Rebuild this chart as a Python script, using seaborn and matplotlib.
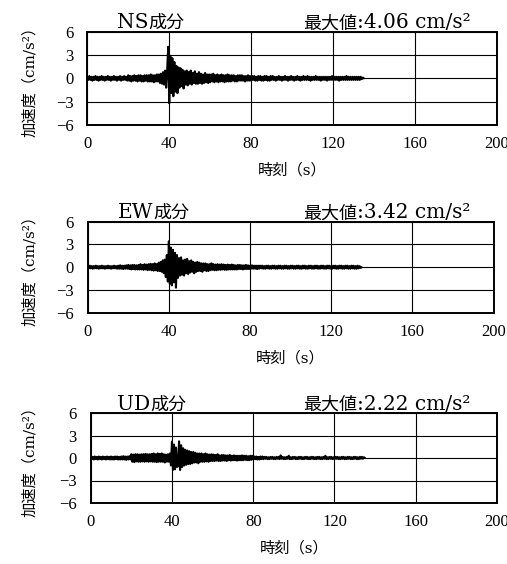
import numpy as np
import matplotlib
matplotlib.use("Agg")
import matplotlib.pyplot as plt
import seaborn as sns
import pandas as pd

# 加速度波形 (0.5 s ごと, 0 - 135 s), 図から読み取った値
dt = 0.5

ns_acc = [
    0.2, -0.2, 0.3, -0.2, 0.2, -0.3, 0.2, -0.2, 0.3, -0.2,
    0.2, -0.3, 0.2, -0.2, 0.3, -0.2, 0.2, -0.3, 0.2, -0.2,
    0.3, -0.2, 0.2, -0.3, 0.2, -0.2, 0.3, -0.2, 0.2, -0.3,
    0.2, -0.2, 0.3, -0.3, 0.2, -0.2, 0.3, -0.2, 0.2, -0.3,
    0.4, -0.3, 0.3, -0.4, 0.3, -0.3, 0.4, -0.3, 0.3, -0.4,
    0.4, -0.3, 0.4, -0.4, 0.3, -0.4, 0.4, -0.3, 0.4, -0.4,
    0.4, -0.4, 0.5, -0.4, 0.4, -0.5, 0.4, -0.4, 0.5, -0.4,
    0.5, -0.6, 0.6, -0.7, 0.8, -0.8, 1.0, -1.2, 1.1, 4.06,
    -3.2, 2.9, -1.9, 2.6, -2.3, 2.1, -1.7, 1.6, -1.9, 1.4,
    -1.2, 1.3, -1.0, 1.1, -1.3, 0.9, -0.8, 1.0, -0.9, 0.8,
    -0.7, 1.0, -0.8, 0.7, -0.6, 0.9, -0.7, 0.6, -0.7, 0.8,
    -0.6, 0.6, -0.7, 0.5, -0.6, 0.7, -0.5, 0.5, -0.6, 0.5,
    -0.5, 0.5, -0.4, 0.6, -0.5, 0.4, -0.4, 0.5, -0.5, 0.4,
    -0.4, 0.5, -0.4, 0.4, -0.5, 0.4, -0.4, 0.5, -0.4, 0.4,
    -0.4, 0.4, -0.3, 0.4, -0.4, 0.3, -0.4, 0.4, -0.3, 0.4,
    -0.3, 0.4, -0.3, 0.3, -0.4, 0.3, -0.3, 0.4, -0.3, 0.3,
    -0.3, 0.3, -0.2, 0.3, -0.3, 0.2, -0.3, 0.3, -0.2, 0.3,
    -0.3, 0.2, -0.3, 0.3, -0.2, 0.3, -0.3, 0.2, -0.3, 0.3,
    -0.2, 0.3, -0.2, 0.2, -0.3, 0.2, -0.2, 0.3, -0.2, 0.2,
    -0.3, 0.2, -0.2, 0.3, -0.2, 0.2, -0.3, 0.2, -0.2, 0.3,
    -0.2, 0.2, -0.3, 0.2, -0.2, 0.3, -0.2, 0.2, -0.3, 0.2,
    -0.2, 0.3, -0.2, 0.2, -0.2, 0.3, -0.2, 0.2, -0.3, 0.2,
    -0.2, 0.2, -0.2, 0.3, -0.2, 0.2, -0.2, 0.2, -0.3, 0.2,
    -0.2, 0.2, -0.2, 0.2, -0.3, 0.2, -0.2, 0.2, -0.2, 0.3,
    -0.2, 0.2, -0.2, 0.2, -0.2, 0.2, -0.3, 0.2, -0.2, 0.2,
    -0.2, 0.2, -0.2, 0.3, -0.2, 0.2, -0.2, 0.2, -0.2, 0.2,
    -0.2, 0.2, -0.2, 0.2, -0.2, 0.2, -0.2, 0.2, -0.1, 0.1,
    0.0,
]

ew_acc = [
    0.15, -0.15, 0.2, -0.15, 0.15, -0.2, 0.15, -0.15, 0.2, -0.15,
    0.15, -0.2, 0.15, -0.15, 0.2, -0.15, 0.15, -0.2, 0.15, -0.15,
    0.2, -0.15, 0.15, -0.2, 0.15, -0.15, 0.2, -0.15, 0.15, -0.2,
    0.2, -0.2, 0.25, -0.2, 0.2, -0.25, 0.2, -0.2, 0.25, -0.2,
    0.3, -0.25, 0.25, -0.3, 0.3, -0.25, 0.3, -0.3, 0.25, -0.3,
    0.3, -0.3, 0.4, -0.3, 0.3, -0.35, 0.4, -0.3, 0.35, -0.4,
    0.4, -0.35, 0.45, -0.4, 0.4, -0.45, 0.5, -0.4, 0.4, -0.5,
    0.6, -0.5, 0.7, -0.6, 0.9, -0.8, 1.0, -1.3, 1.6, -1.9,
    3.42, -2.2, 2.6, -2.4, 2.3, -2.0, 1.9, -2.7, 1.6, -1.4,
    1.2, -1.1, 1.3, -1.0, 0.9, -1.1, 1.0, -0.8, 1.1, -0.9,
    0.8, -0.7, 0.9, -0.6, 0.7, -0.8, 0.6, -0.6, 0.7, -0.5,
    0.6, -0.5, 0.5, -0.6, 0.5, -0.4, 0.5, -0.5, 0.4, -0.5,
    0.4, -0.4, 0.5, -0.35, 0.4, -0.4, 0.35, -0.4, 0.4, -0.35,
    0.35, -0.35, 0.4, -0.3, 0.35, -0.35, 0.3, -0.35, 0.35, -0.3,
    0.3, -0.3, 0.35, -0.3, 0.3, -0.3, 0.25, -0.3, 0.3, -0.25,
    0.3, -0.25, 0.25, -0.3, 0.25, -0.25, 0.3, -0.25, 0.25, -0.25,
    0.2, -0.2, 0.25, -0.2, 0.2, -0.2, 0.2, -0.25, 0.2, -0.2,
    0.2, -0.15, 0.2, -0.2, 0.15, -0.2, 0.2, -0.15, 0.2, -0.2,
    0.15, -0.2, 0.2, -0.15, 0.2, -0.2, 0.15, -0.2, 0.2, -0.15,
    0.2, -0.2, 0.15, -0.2, 0.2, -0.15, 0.2, -0.2, 0.15, -0.2,
    0.2, -0.15, 0.2, -0.2, 0.15, -0.2, 0.2, -0.15, 0.2, -0.2,
    0.15, -0.2, 0.2, -0.15, 0.2, -0.2, 0.15, -0.2, 0.2, -0.15,
    0.2, -0.2, 0.15, -0.2, 0.2, -0.15, 0.2, -0.2, 0.15, -0.2,
    0.2, -0.15, 0.2, -0.2, 0.15, -0.2, 0.2, -0.15, 0.2, -0.2,
    0.15, -0.2, 0.2, -0.15, 0.2, -0.2, 0.15, -0.2, 0.2, -0.15,
    0.2, -0.2, 0.15, -0.2, 0.2, -0.15, 0.2, -0.2, 0.15, -0.2,
    0.2, -0.15, 0.2, -0.2, 0.15, -0.2, 0.2, -0.15, 0.15, -0.1,
    0.0,
]

ud_acc = [
    0.2, -0.15, 0.15, -0.2, 0.2, -0.15, 0.15, -0.2, 0.2, -0.15,
    0.15, -0.2, 0.2, -0.15, 0.15, -0.2, 0.2, -0.15, 0.15, -0.2,
    0.2, -0.2, 0.15, -0.2, 0.2, -0.15, 0.2, -0.2, 0.15, -0.2,
    0.2, -0.2, 0.25, -0.2, 0.2, -0.25, 0.2, -0.2, 0.25, -0.2,
    0.5, -0.5, 0.45, -0.55, 0.5, -0.45, 0.5, -0.5, 0.45, -0.5,
    0.5, -0.45, 0.5, -0.5, 0.55, -0.45, 0.5, -0.5, 0.5, -0.45,
    0.55, -0.5, 0.6, -0.5, 0.5, -0.55, 0.6, -0.5, 0.55, -0.5,
    0.6, -0.5, 0.5, -0.6, 0.45, -0.5, 0.5, -0.5, 0.6, -1.0,
    2.2, -1.6, 1.8, -1.5, 1.4, -1.2, -1.1, 2.22, -1.6, 1.7,
    -1.2, 1.3, -1.0, 1.1, -0.9, 1.0, -0.8, 0.9, -0.8, 0.8,
    -0.7, 0.8, -0.6, 0.7, -0.6, 0.6, -0.7, 0.6, -0.5, 0.6,
    -0.5, 0.5, -0.5, 0.6, -0.45, 0.5, -0.5, 0.45, -0.4, 0.5,
    -0.4, 0.45, -0.4, 0.4, -0.35, 0.5, -0.4, 0.35, -0.4, 0.4,
    -0.35, 0.4, -0.35, 0.35, -0.4, 0.35, -0.3, 0.4, -0.35, 0.3,
    -0.3, 0.35, -0.3, 0.3, -0.35, 0.3, -0.3, 0.3, -0.3, 0.35,
    -0.3, 0.3, -0.25, 0.3, -0.3, 0.25, -0.3, 0.3, -0.25, 0.3,
    -0.2, 0.2, -0.15, 0.2, -0.2, 0.15, -0.2, 0.2, -0.15, 0.2,
    -0.15, 0.15, -0.1, 0.15, -0.15, 0.1, -0.15, 0.15, -0.1, 0.15,
    -0.15, 0.1, -0.15, 0.15, -0.1, 0.15, -0.15, 0.35, -0.1, 0.15,
    -0.15, 0.1, -0.15, 0.15, -0.1, 0.3, -0.15, 0.1, -0.15, 0.15,
    -0.1, 0.15, -0.15, 0.1, -0.15, 0.15, -0.1, 0.15, -0.15, 0.1,
    -0.15, 0.15, -0.1, 0.15, -0.15, 0.1, -0.15, 0.15, -0.1, 0.15,
    -0.15, 0.1, -0.15, 0.15, -0.1, 0.15, -0.15, 0.1, -0.15, 0.15,
    -0.1, 0.3, -0.15, 0.1, -0.15, 0.15, -0.1, 0.15, -0.15, 0.1,
    -0.15, 0.15, -0.1, 0.15, -0.15, 0.1, -0.15, 0.15, -0.1, 0.15,
    -0.15, 0.1, -0.15, 0.15, -0.1, 0.15, -0.15, 0.1, -0.15, 0.15,
    -0.1, 0.15, -0.15, 0.1, -0.15, 0.15, -0.1, 0.15, -0.1, 0.1,
    0.0,
]

comp_latin = ["NS", "EW", "UD"]
comp_cjk = "成分"
max_cjk = "最大値"
max_values = [":4.06 cm/s²", ":3.42 cm/s²", ":2.22 cm/s²"]
x_ticks = [0, 40, 80, 120, 160, 200]
y_ticks = [-6, -3, 0, 3, 6]

LATIN = "DejaVu Serif"
CJK = "Noto Sans CJK JP"

sns.set_theme(style="white")
plt.rcParams["font.family"] = ["Liberation Serif", CJK]
plt.rcParams["axes.unicode_minus"] = True

W, H = 507, 564
fig = plt.figure(figsize=(W / 100, H / 100), dpi=100)

# パネルの枠 (ピクセル: 左, 右, 上, 下)
boxes = [
    (87.3, 497.0, 31.7, 125.0),
    (87.7, 493.5, 221.7, 312.7),
    (90.7, 497.0, 413.0, 503.0),
]
title_px = [117, 118, 117]
max_px = [303, 303, 303]


def text_run(ax, x_frac, parts, dy=2.5):
    prev = None
    for txt, fam, size in parts:
        if prev is None:
            xy, coords = (x_frac, 1.0), "axes fraction"
        else:
            xy, coords = (1.0, 1.0), (prev, "axes fraction")
        prev = ax.annotate(txt, xy=xy, xycoords=coords, xytext=(0, dy),
                           textcoords="offset points", ha="left",
                           va="baseline", family=fam, fontsize=size,
                           color="black")


for i, acc in enumerate([ns_acc, ew_acc, ud_acc]):
    left, right, top, bottom = boxes[i]
    wpx, hpx = right - left, bottom - top
    ax = fig.add_axes([left / W, 1 - bottom / H, wpx / W, hpx / H])
    df = pd.DataFrame({"時刻": np.arange(len(acc)) * dt, "加速度": acc})
    sns.lineplot(data=df, x="時刻", y="加速度", ax=ax, color="black",
                 linewidth=1.5, sort=False)

    ax.set_xlim(0, 200)
    ax.set_ylim(-6, 6)
    ax.set_xticks(x_ticks)
    ax.set_yticks(y_ticks)
    ax.grid(True, color="black", linewidth=0.8)
    for sp in ax.spines.values():
        sp.set_color("black")
        sp.set_linewidth(1.4)
    ax.tick_params(axis="both", length=0, labelsize=12, colors="black")
    ax.tick_params(axis="y", pad=10)
    ax.tick_params(axis="x", pad=8)

    ax.set_xlabel("時刻（s）", fontsize=11, color="black",
                  family=[LATIN, CJK])
    ax.set_ylabel("加速度（cm/s²）", fontsize=11, color="black",
                  family=[LATIN, CJK])
    ax.xaxis.set_label_coords(0.5, -38 / hpx)
    ax.yaxis.set_label_coords((37 - left) / wpx, 0.5)

    text_run(ax, (title_px[i] - left) / wpx,
             [(comp_latin[i], LATIN, 14.5), (comp_cjk, CJK, 13)])
    text_run(ax, (max_px[i] - left) / wpx,
             [(max_cjk, CJK, 13), (max_values[i], LATIN, 14.5)])

fig.savefig("out.png", dpi=100)
